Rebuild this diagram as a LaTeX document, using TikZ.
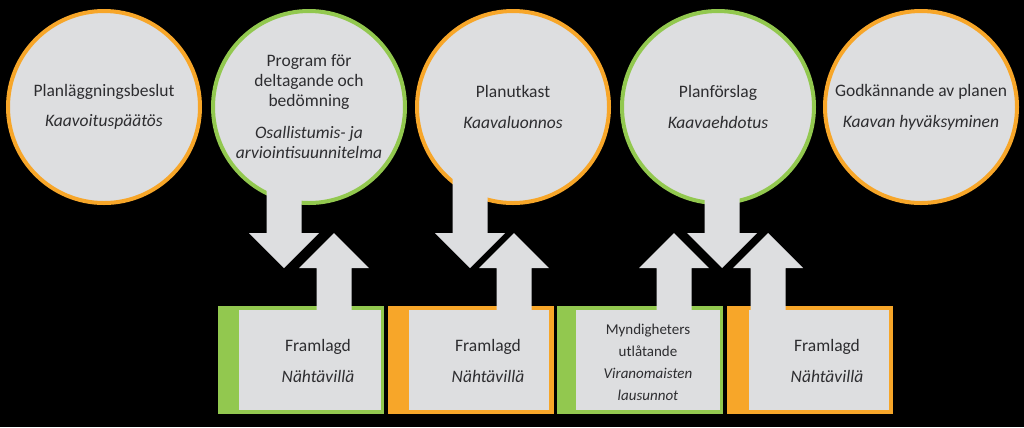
\documentclass[tikz,border=0pt]{standalone}
\usepackage{fontspec}
\setmainfont{Carlito}
\definecolor{ora}{RGB}{247,166,41}
\definecolor{grn}{RGB}{146,200,79}
\definecolor{fillg}{RGB}{221,222,224}
\definecolor{txt}{RGB}{45,45,48}
\newcommand{\blockdown}[3]{%
  \fill[fillg] (#1-17.5,#2) -- (#1+17.5,#2) -- (#1+17.5,#3-35) -- (#1+35,#3-35)
    -- (#1,#3) -- (#1-35,#3-35) -- (#1-17.5,#3-35) -- cycle;}
\newcommand{\blockup}[3]{%
  \fill[fillg] (#1-17.5,#2) -- (#1+17.5,#2) -- (#1+17.5,#3+35) -- (#1+35,#3+35)
    -- (#1,#3) -- (#1-35,#3+35) -- (#1-17.5,#3+35) -- cycle;}
\begin{document}
\begin{tikzpicture}[x=1bp,y=-1bp,
  stage/.style={circle, draw=#1, line width=4bp, fill=fillg, minimum size=192bp,
    inner sep=0pt, align=center, text=txt, font=\fontsize{17.5bp}{20bp}\selectfont},
  frame/.style={rectangle, fill=#1, anchor=north west, minimum width=166bp,
    minimum height=108bp, inner sep=0pt},
  panel/.style={rectangle, fill=fillg, anchor=north west, minimum height=100bp, inner sep=0pt},
  boxtext/.style={align=center, text=txt, inner sep=0pt, font=\fontsize{17.5bp}{20bp}\selectfont},
  smalltext/.style={align=center, text=txt, inner sep=0pt, font=\fontsize{15bp}{22bp}\selectfont}
]
\fill[black] (0,0) rectangle (1024,427);
\useasboundingbox (0,0) rectangle (1024,427);

% stage circles
\node[stage=ora] (c1) at (104,107) {Planläggningsbeslut\\[10bp]\textit{Kaavoituspäätös}};
\node[stage=grn] (c2) at (309,107) {Program för\\deltagande och\\bedömning\\[12bp]\textit{Osallistumis- ja}\\\textit{arviointisuunnitelma}};
\node[stage=ora] (c3) at (513,107) {Planutkast\\[11bp]\textit{Kaavaluonnos}};
\node[stage=grn] (c4) at (718,107) {Planförslag\\[11bp]\textit{Kaavaehdotus}};
\node[stage=ora] (c5) at (921,107) {Godkännande av planen\\[11bp]\textit{Kaavan hyväksyminen}};

% boxes
\node[frame=grn] (b1) at (218,306) {};
\node[panel, minimum width=142bp] (p1) at (239,310) {};
\node[frame=ora] (b2) at (388,306) {};
\node[panel, minimum width=140bp] (p2) at (409,310) {};
\node[frame=grn] (b3) at (557,306) {};
\node[panel, minimum width=144bp] (p3) at (576,310) {};
\node[frame=ora] (b4) at (727,306) {};
\node[panel, minimum width=140bp] (p4) at (749,310) {};

% block arrows
\blockdown{284}{170}{268}
\blockup{334}{310}{233}
\blockdown{470}{170}{268}
\blockup{514}{310}{233}
\blockdown{722}{170}{268}
\blockup{674}{310}{233}
\blockup{768}{310}{233}

% box texts
\node[boxtext] (t1) at (318,361) {Framlagd\\[11bp]\textit{Nähtävillä}};
\node[boxtext] (t2) at (488,361) {Framlagd\\[11bp]\textit{Nähtävillä}};
\node[smalltext] (t3) at (648,362) {Myndigheters\\utlåtande\\\textit{Viranomaisten}\\\textit{lausunnot}};
\node[boxtext] (t4) at (827,361) {Framlagd\\[11bp]\textit{Nähtävillä}};
\end{tikzpicture}
\end{document}
